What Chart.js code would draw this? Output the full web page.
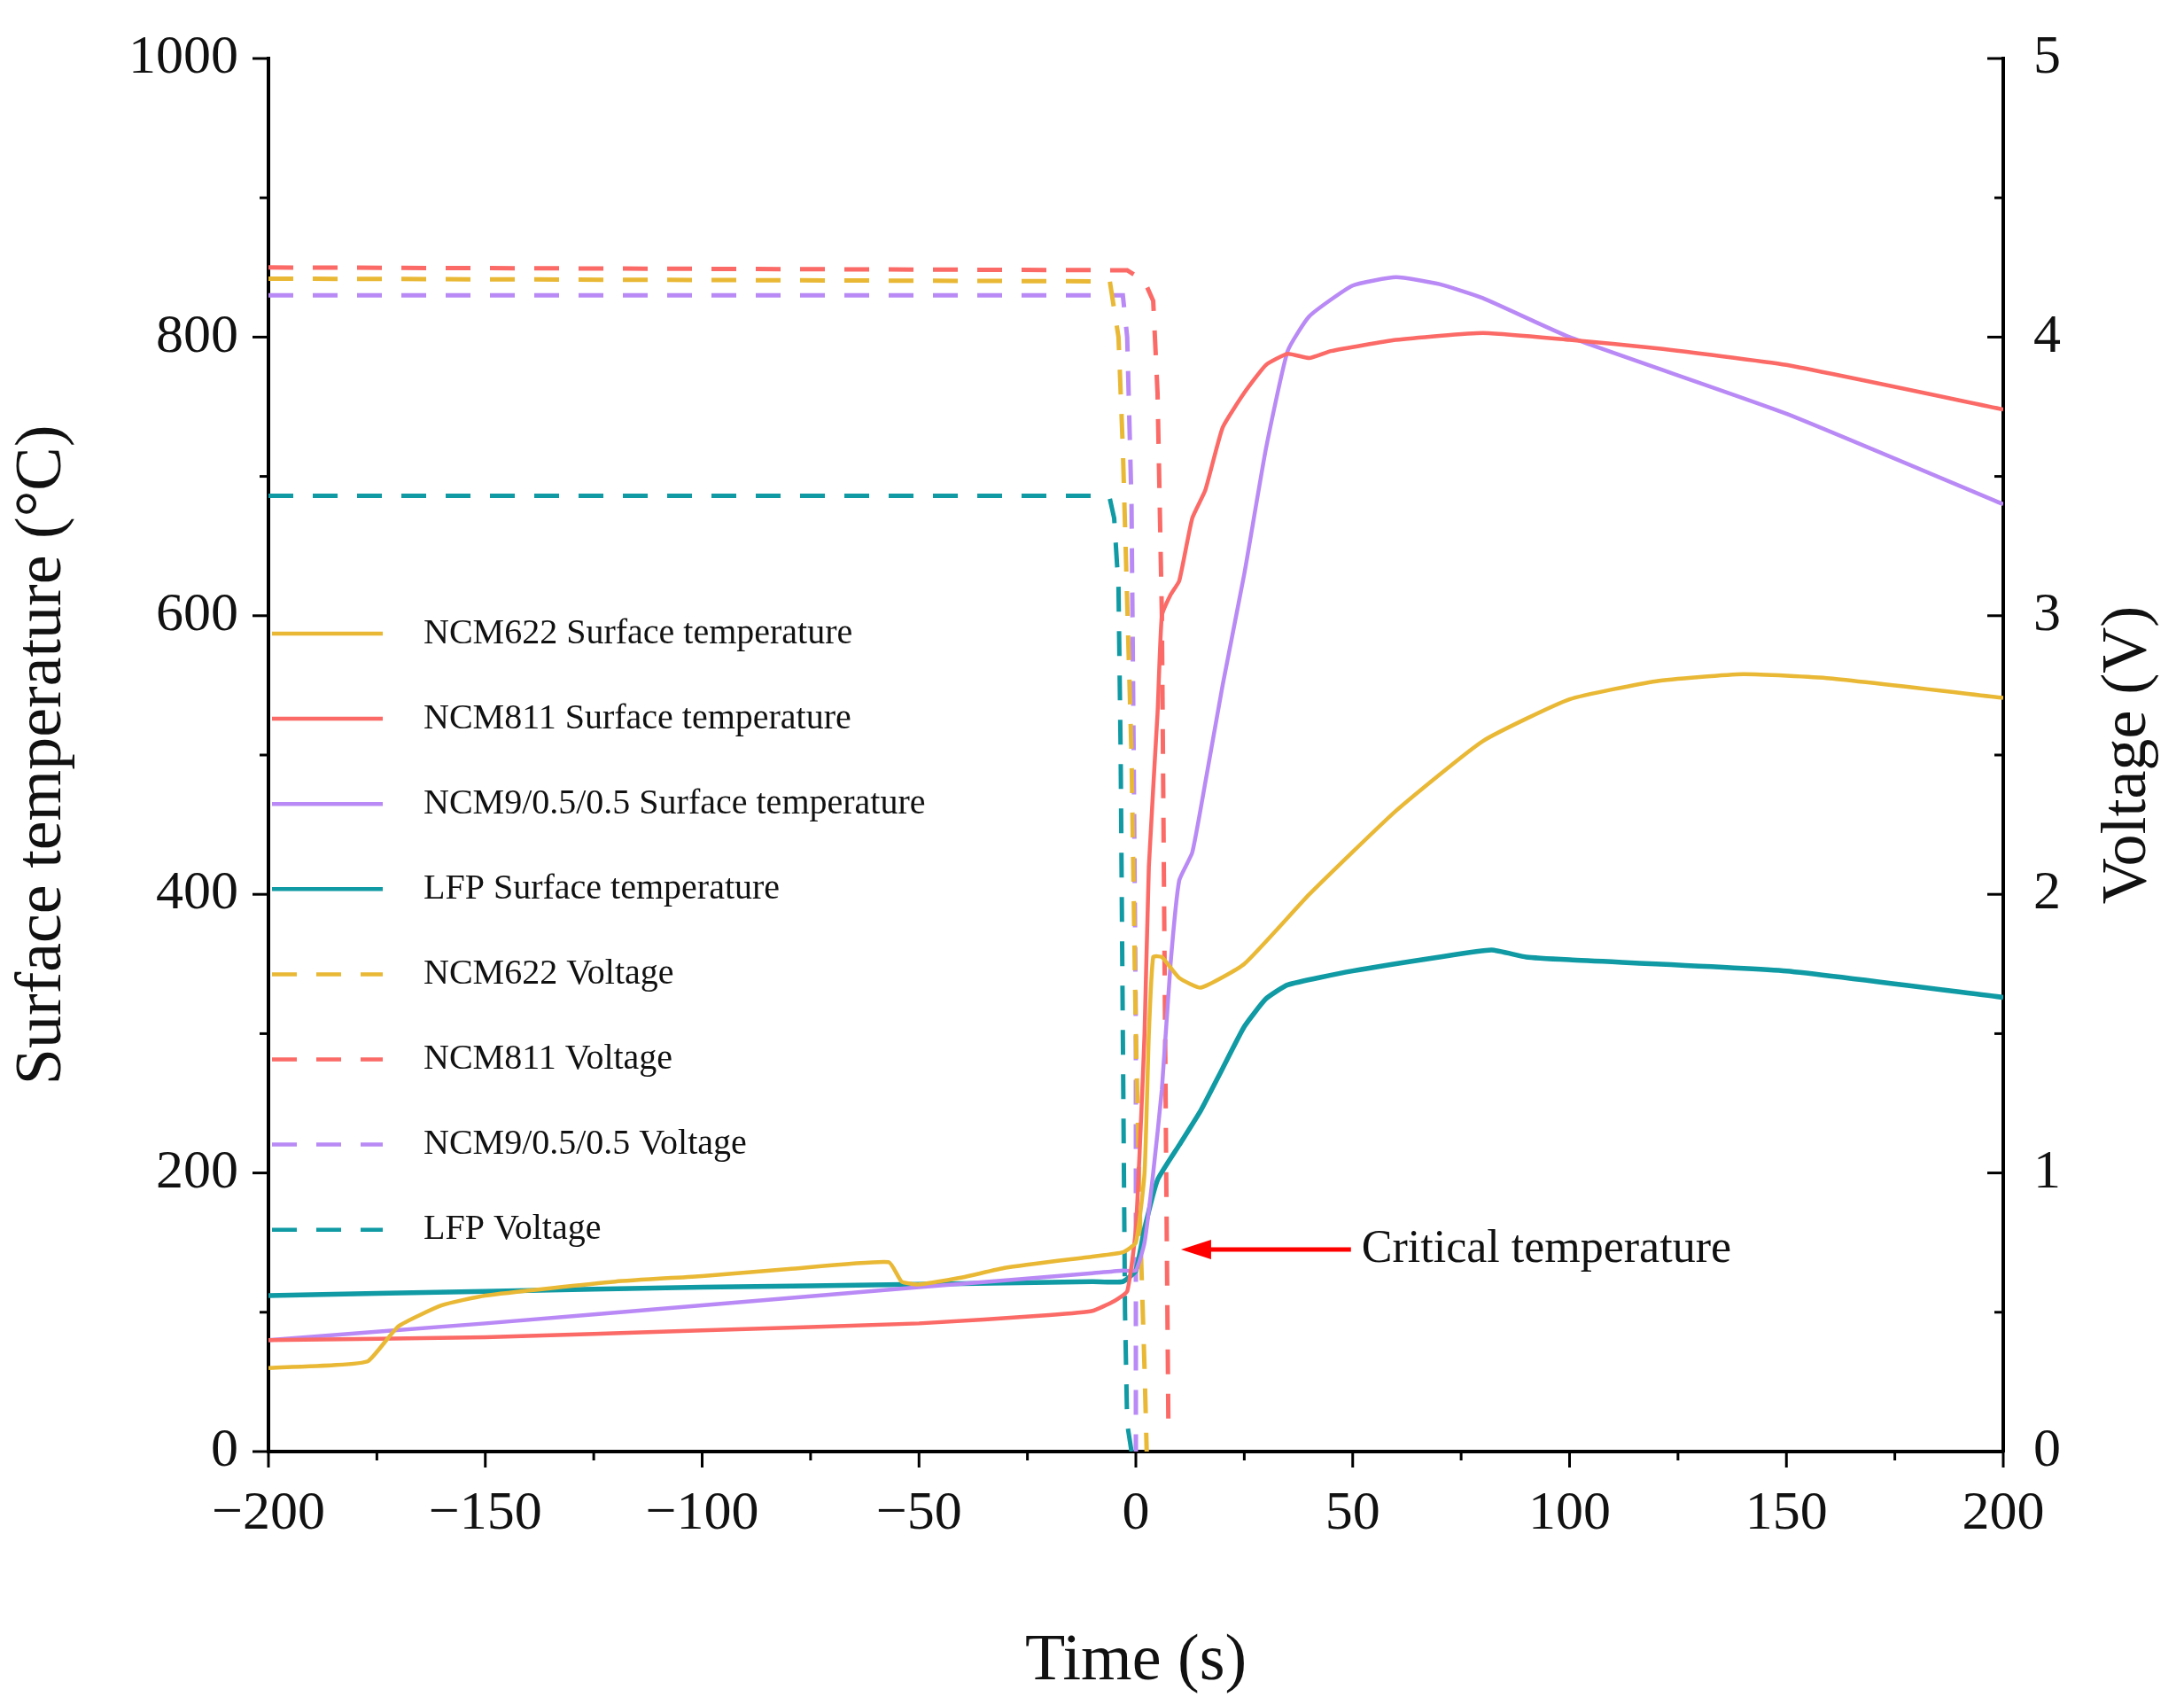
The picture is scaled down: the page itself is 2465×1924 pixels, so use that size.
<!DOCTYPE html>
<html>
<head>
<meta charset="utf-8">
<script src="https://cdn.jsdelivr.net/npm/chart.js@4"></script>
<style>
  html, body { margin: 0; padding: 0; background: #fff; }
  canvas { display: block; }
</style>
</head>
<body>
<canvas id="c" width="2465" height="1924"></canvas>
<script>
// temperature series [time s, °C]
const ncm622Temp = [[-200,60],[-185,62],[-177,65],[-170,90],[-160,105],[-150,112],[-120,122],[-100,126],[-80,131],[-57,136],[-54,122],[-50,120],[-40,125],[-30,132],[-10,140],[-3,143],[0,150],[2,200],[3,300],[4,355],[6,355],[10,340],[15,333],[25,350],[40,400],[60,460],[80,510],[100,540],[120,553],[140,558],[160,555],[200,541]];
const ncm811Temp = [[-200,80],[-150,82],[-100,87],[-50,92],[-20,98],[-10,101],[-5,108],[-2,115],[0,160],[2,300],[3,420],[5,530],[6,600],[8,615],[10,625],[13,670],[16,690],[20,735],[25,760],[30,780],[35,788],[40,785],[45,790],[60,798],[80,803],[100,798],[120,792],[150,780],[200,748]];
const ncm9Temp = [[-200,80],[-150,92],[-100,105],[-50,118],[-10,128],[-3,130],[0,130],[2,150],[4,200],[6,260],[8,350],[10,410],[13,430],[16,480],[20,550],[25,630],[30,720],[35,790],[40,815],[50,837],[60,843],[70,838],[80,828],[100,800],[150,745],[200,680]];
const lfpTemp = [[-200,112],[-150,115],[-100,118],[-50,120],[-10,122],[-3,122],[0,130],[2,160],[5,195],[10,220],[15,245],[20,275],[25,305],[30,325],[35,335],[50,345],[70,355],[82,360],[90,355],[100,353],[150,345],[200,326]];

// voltage series [time s, V]
const ncm622Volt = [[-200,4.21],[-6,4.2],[-4,4.0],[-3,3.6],[-1,2.5],[0,1.5],[1,0.8],[2,0.3],[2.5,0]];
const ncm811Volt = [[-200,4.25],[-2,4.24],[2,4.2],[4,4.13],[5,3.8],[6,3.0],[6.5,2.0],[7,1.0],[7.5,0.1]];
const ncm9Volt = [[-200,4.15],[-3,4.15],[-2,4.0],[-1,3.4],[-0.5,2.5],[0,1.5],[0,0.5],[0,0]];
const lfpVolt = [[-200,3.43],[-10,3.43],[-6,3.42],[-5,3.35],[-4,3.1],[-3.5,2.5],[-3,1.5],[-2.5,0.5],[-2,0.1],[-1,0]];

const labels = ["NCM622 Surface temperature","NCM811 Surface temperature","NCM9/0.5/0.5 Surface temperature","LFP Surface temperature","NCM622 Voltage","NCM811 Voltage","NCM9/0.5/0.5 Voltage","LFP Voltage"];
const colors = ["#e9b835","#fb6a66","#b98af5","#0f9aa4"];
const temps = [ncm622Temp, ncm811Temp, ncm9Temp, lfpTemp];
const volts = [ncm622Volt, ncm811Volt, ncm9Volt, lfpVolt];

const FONT = "'Liberation Serif', 'DejaVu Serif', serif";
const pts = (arr) => arr.map(([x, y]) => ({ x, y }));
const minus = (v) => String(v).replace("-", "\u2212");

const datasets = [];
temps.forEach((d, i) => datasets.push({ label: labels[i], data: pts(d), borderColor: colors[i], borderWidth: i === 3 ? 5.5 : 4.5, yAxisID: "y", pointRadius: 0, tension: 0.15, order: 0 }));
volts.forEach((d, i) => datasets.push({ label: labels[i + 4], data: pts(d), borderColor: colors[i], borderWidth: 5, borderDash: [28, 22], yAxisID: "y2", pointRadius: 0, tension: 0, order: 1 }));

const extras = {
  id: "extras",
  afterDraw(chart) {
    const { ctx, chartArea: a, scales } = chart;
    ctx.save();
    ctx.strokeStyle = "#000";
    ctx.lineWidth = 3;
    // minor/major ticks
    for (let v = -200; v <= 200; v += 25) {
      const px = scales.x.getPixelForValue(v), len = v % 50 === 0 ? 18 : 10;
      ctx.beginPath(); ctx.moveTo(px, a.bottom); ctx.lineTo(px, a.bottom + len); ctx.stroke();
    }
    for (let v = 0; v <= 1000; v += 100) {
      const py = scales.y.getPixelForValue(v), len = v % 200 === 0 ? 18 : 10;
      ctx.beginPath(); ctx.moveTo(a.left, py); ctx.lineTo(a.left - len, py); ctx.stroke();
    }
    for (let v = 0; v <= 5; v += 0.5) {
      const py = scales.y2.getPixelForValue(v), len = Number.isInteger(v) ? 18 : 10;
      ctx.beginPath(); ctx.moveTo(a.right, py); ctx.lineTo(a.right - len, py); ctx.stroke();
    }
    // right axis title, reading bottom to top
    ctx.fillStyle = "#111";
    ctx.font = "72px " + FONT;
    ctx.textAlign = "center";
    ctx.textBaseline = "middle";
    ctx.translate(2402, (a.top + a.bottom) / 2);
    ctx.rotate(-Math.PI / 2);
    ctx.fillText("Voltage (V)", 0, 0);
    ctx.setTransform(1, 0, 0, 1, 0, 0);
    ctx.textAlign = "left";
    // legend inside plot
    ctx.font = "40px " + FONT;
    chart.data.datasets.forEach((ds, i) => {
      const y = 715 + i * 96.1;
      ctx.strokeStyle = ds.borderColor;
      ctx.lineWidth = 4.5;
      ctx.setLineDash(ds.borderDash ? [28, 22] : []);
      ctx.beginPath(); ctx.moveTo(307, y); ctx.lineTo(432, y); ctx.stroke();
      ctx.fillText(ds.label, 478, y);
    });
    ctx.setLineDash([]);
    // critical temperature arrow
    const ay = scales.y.getPixelForValue(145);
    const x0 = scales.x.getPixelForValue(49.6), x1 = scales.x.getPixelForValue(10.4);
    ctx.strokeStyle = "#f00"; ctx.fillStyle = "#f00"; ctx.lineWidth = 5;
    ctx.beginPath(); ctx.moveTo(x0, ay); ctx.lineTo(x1 + 30, ay); ctx.stroke();
    ctx.beginPath(); ctx.moveTo(x1, ay); ctx.lineTo(x1 + 34, ay - 11); ctx.lineTo(x1 + 34, ay + 11); ctx.closePath(); ctx.fill();
    ctx.fillStyle = "#111";
    ctx.font = "52px " + FONT;
    ctx.fillText("Critical temperature", x0 + 12, ay);
    ctx.restore();
  }
};

new Chart(document.getElementById("c"), {
  type: "line",
  data: { datasets },
  options: {
    responsive: false,
    devicePixelRatio: 1,
    animation: false,
    layout: { padding: { top: 66, left: 0, right: 0, bottom: 0 } },
    plugins: { legend: { display: false }, tooltip: { enabled: false } },
    scales: {
      x: {
        type: "linear", min: -200, max: 200,
        grid: { display: false },
        border: { color: "#000", width: 4 },
        ticks: { stepSize: 50, padding: 26, color: "#111", font: { family: FONT, size: 62 }, callback: (v) => minus(v), maxRotation: 0 },
        title: { display: true, text: "Time (s)", color: "#111", font: { family: FONT, size: 74 }, padding: { top: 50 } },
        afterFit: (s) => { s.height = 286; }
      },
      y: {
        position: "left", min: 0, max: 1000,
        grid: { display: false },
        border: { color: "#000", width: 4 },
        ticks: { stepSize: 200, padding: 26, color: "#111", font: { family: FONT, size: 62 }, callback: (v) => String(v) },
        title: { display: true, text: "Surface temperature (°C)", color: "#111", font: { family: FONT, size: 74 }, padding: { bottom: 20 } },
        afterFit: (s) => { s.width = 303; }
      },
      y2: {
        position: "right", min: 0, max: 5,
        grid: { display: false },
        border: { color: "#000", width: 4 },
        ticks: { stepSize: 1, padding: 26, color: "#111", font: { family: FONT, size: 62 } },
        afterFit: (s) => { s.width = 204; }
      }
    }
  },
  plugins: [extras]
});
</script>
</body>
</html>
